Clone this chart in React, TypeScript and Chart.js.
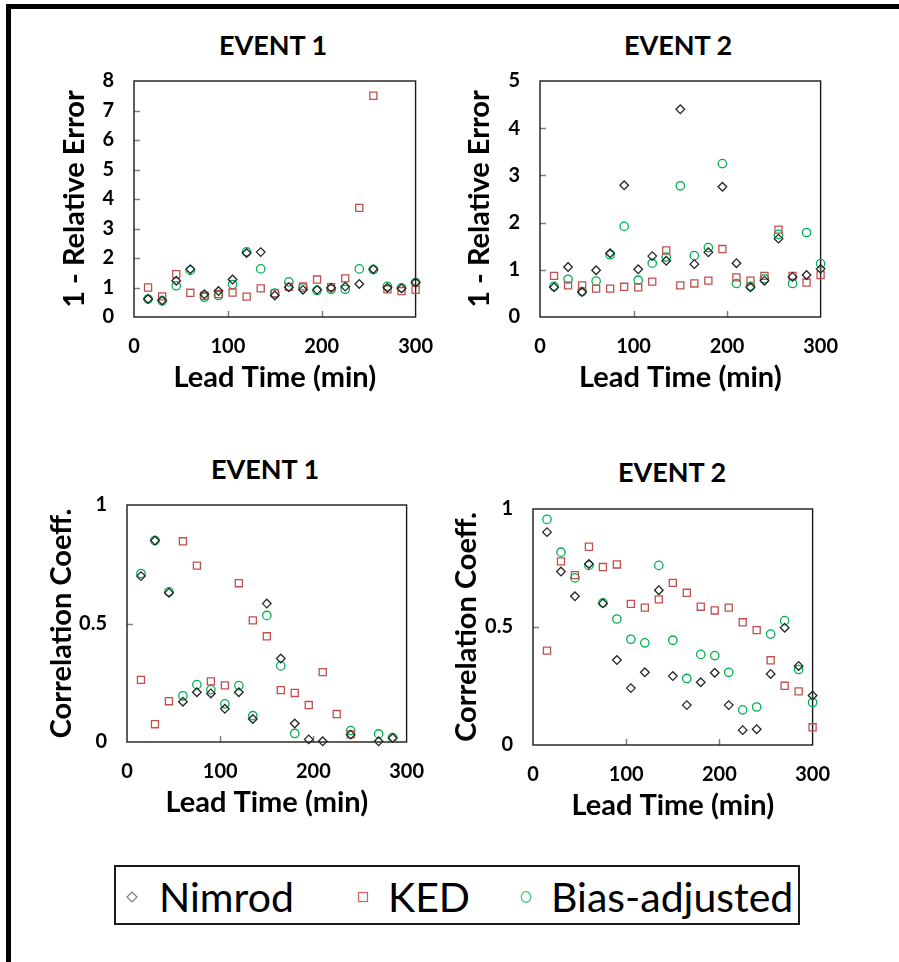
import React, { useEffect, useRef } from 'react';
import { Chart, registerables } from 'chart.js';

Chart.register(...registerables);

// ---------- data ----------
const LEAD_TIMES = [15, 30, 45, 60, 75, 90, 105, 120, 135, 150, 165, 180, 195, 210, 225, 240, 255, 270, 285, 300];

const E1_RE_NIMROD = [0.61, 0.56, 1.23, 1.62, 0.77, 0.88, 1.27, 2.17, 2.2, 0.73, 1.01, 0.92, 0.92, 0.99, 1.03, 1.12, 1.62, 0.99, 0.97, 1.17];
const E1_RE_KED = [1.0, 0.7, 1.45, 0.82, 0.72, 0.78, 0.83, 0.69, 0.97, 0.8, 1.02, 1.04, 1.27, 1.01, 1.31, 3.7, 7.5, 0.94, 0.88, 0.92];
const E1_RE_BIAS = [0.61, 0.55, 1.06, 1.58, 0.67, 0.73, 1.1, 2.21, 1.63, 0.81, 1.19, 0.99, 0.9, 0.94, 0.94, 1.63, 1.61, 1.04, 0.99, 1.17];

const E2_RE_NIMROD = [0.63, 1.06, 0.53, 0.99, 1.35, 2.79, 1.01, 1.29, 1.19, 4.4, 1.12, 1.37, 2.76, 1.14, 0.63, 0.77, 1.66, 0.85, 0.89, 1.02];
const E2_RE_KED = [0.87, 0.67, 0.67, 0.6, 0.6, 0.64, 0.63, 0.75, 1.41, 0.67, 0.71, 0.77, 1.44, 0.84, 0.77, 0.87, 1.85, 0.87, 0.73, 0.89];
const E2_RE_BIAS = [0.65, 0.8, 0.54, 0.76, 1.32, 1.92, 0.78, 1.14, 1.27, 2.78, 1.3, 1.47, 3.25, 0.71, 0.65, 0.81, 1.75, 0.71, 1.79, 1.13];

const E1_CC_NIMROD = [0.7, 0.85, 0.63, 0.17, 0.21, 0.205, 0.14, 0.21, 0.097, 0.584, 0.352, 0.078, 0.011, 0.003, null, 0.031, null, 0.003, 0.017, null];
const E1_CC_KED = [0.262, 0.075, 0.172, 0.847, 0.744, 0.256, 0.239, 0.67, 0.513, 0.446, 0.219, 0.207, 0.156, 0.295, 0.118, 0.032, null, null, null, null];
const E1_CC_BIAS = [0.711, 0.85, 0.634, 0.195, 0.242, 0.221, 0.161, 0.238, 0.111, 0.534, 0.321, 0.036, null, null, null, 0.048, null, 0.034, 0.019, null];

const E2_CC_NIMROD = [0.902, 0.735, 0.63, 0.767, 0.6, 0.36, 0.241, 0.308, 0.656, 0.292, 0.169, 0.266, 0.306, 0.169, 0.063, 0.067, 0.301, 0.497, 0.335, 0.21];
const E2_CC_KED = [0.4, 0.778, 0.72, 0.84, 0.754, 0.765, 0.598, 0.582, 0.617, 0.687, 0.645, 0.586, 0.57, 0.582, 0.52, 0.487, 0.359, 0.251, 0.227, 0.075];
const E2_CC_BIAS = [0.956, 0.817, 0.708, 0.761, 0.602, 0.534, 0.448, 0.433, 0.761, 0.444, 0.282, 0.384, 0.379, 0.308, 0.149, 0.161, 0.47, 0.527, 0.32, 0.18];

const SERIES_NAMES = ['Nimrod', 'KED', 'Bias-adjusted'];
const X_TITLE = 'Lead Time (min)';
const Y_TITLE_RE = '1 - Relative Error';
const Y_TITLE_CC = 'Correlation Coeff.';

// ---------- styling ----------
const FONT = 'Lato, "Open Sans", "DejaVu Sans", sans-serif';
const C_NIM = '#262626';
const C_KED = '#c0504d';
const C_BIAS = '#00b050';

type Plot = { l: number; t: number; r: number; b: number };
type PanelCfg = {
  title: string;
  titleX: number;
  titleY: number;
  plot: Plot;
  yMax: number;
  yStep: number;
  yTitle: string;
  yTitleX: number;
  nim: (number | null)[];
  ked: (number | null)[];
  bias: (number | null)[];
};

const PANELS: PanelCfg[] = [
  { title: 'EVENT 1', titleX: 273, titleY: 45, plot: { l: 134, t: 69, r: 421, b: 317 }, yMax: 8, yStep: 1, yTitle: Y_TITLE_RE, yTitleX: 75, nim: E1_RE_NIMROD, ked: E1_RE_KED, bias: E1_RE_BIAS },
  { title: 'EVENT 2', titleX: 678, titleY: 45, plot: { l: 540, t: 69, r: 826, b: 317 }, yMax: 5, yStep: 1, yTitle: Y_TITLE_RE, yTitleX: 480, nim: E2_RE_NIMROD, ked: E2_RE_KED, bias: E2_RE_BIAS },
  { title: 'EVENT 1', titleX: 265, titleY: 469, plot: { l: 127, t: 493, r: 412, b: 742 }, yMax: 1, yStep: 0.5, yTitle: Y_TITLE_CC, yTitleX: 62, nim: E1_CC_NIMROD, ked: E1_CC_KED, bias: E1_CC_BIAS },
  { title: 'EVENT 2', titleX: 672, titleY: 472, plot: { l: 533, t: 497, r: 818, b: 745 }, yMax: 1, yStep: 0.5, yTitle: Y_TITLE_CC, yTitleX: 467, nim: E2_CC_NIMROD, ked: E2_CC_KED, bias: E2_CC_BIAS },
];

const Y_W = 110;
const X_H = 90;
const PAD_T = 20;
const PAD_R = 30;
const TITLE_SIZE = 27;
const AXIS_TITLE_SIZE = 29;
const TICK_SIZE = 20;
const LH = 1.2;

const toPoints = (vals: (number | null)[]) =>
  LEAD_TIMES.map((x, i) => ({ x, y: vals[i] })).filter((p) => p.y !== null && p.y !== undefined) as { x: number; y: number }[];

const framePlugin = {
  id: 'frameAndInnerTicks',
  beforeDatasetsDraw(chart: any) {
    const { ctx, chartArea, scales } = chart;
    const { left, top, right, bottom } = chartArea;
    const x = scales.x;
    const y = scales.y;
    ctx.save();
    ctx.strokeStyle = '#808080';
    ctx.lineWidth = 1.5;
    ctx.beginPath();
    x.ticks.forEach((t: any) => {
      if (t.value > x.min && t.value < x.max) {
        const px = Math.round(x.getPixelForValue(t.value)) + 0.5;
        ctx.moveTo(px, bottom);
        ctx.lineTo(px, bottom - 6);
      }
    });
    y.ticks.forEach((t: any) => {
      if (t.value > y.min && t.value < y.max) {
        const py = Math.round(y.getPixelForValue(t.value)) + 0.5;
        ctx.moveTo(left, py);
        ctx.lineTo(left + 6, py);
      }
    });
    ctx.stroke();
    ctx.strokeStyle = '#1a1a1a';
    ctx.lineWidth = 1.4;
    ctx.strokeRect(left, top, right - left, bottom - top);
    ctx.restore();
  },
};

function Panel({ cfg }: { cfg: PanelCfg }) {
  const ref = useRef<HTMLCanvasElement>(null);
  const { l, t, r, b } = cfg.plot;
  const cLeft = l - Y_W;
  const cTop = t - PAD_T;
  const W = Y_W + (r - l) + PAD_R;
  const H = PAD_T + (b - t) + X_H;

  useEffect(() => {
    if (!ref.current) return;
    const lhPx = AXIS_TITLE_SIZE * LH;
    const yTitlePad = cfg.yTitleX - cLeft - lhPx / 2;
    const xTitlePad = X_H - 61 - lhPx / 2;
    const ds = (label: string, vals: (number | null)[], style: string, color: string, radius: number) => ({
      label,
      data: toPoints(vals),
      pointStyle: style,
      pointRadius: radius,
      pointBorderColor: color,
      pointBackgroundColor: 'rgba(0,0,0,0)',
      pointBorderWidth: 1.3,
      borderColor: color,
      backgroundColor: 'rgba(0,0,0,0)',
      showLine: false,
      clip: false as any,
    });
    const chart = new Chart(ref.current, {
      type: 'scatter',
      data: {
        datasets: [
          ds(SERIES_NAMES[0], cfg.nim, 'rectRot', C_NIM, 4.3),
          ds(SERIES_NAMES[1], cfg.ked, 'rect', C_KED, 5),
          ds(SERIES_NAMES[2], cfg.bias, 'circle', C_BIAS, 4.2),
        ] as any,
      },
      options: {
        animation: false,
        responsive: false,
        maintainAspectRatio: false,
        events: [],
        layout: { padding: { top: PAD_T, right: PAD_R, left: 0, bottom: 0 } },
        plugins: {
          legend: { display: false },
          tooltip: { enabled: false },
          title: { display: false },
        },
        scales: {
          x: {
            type: 'linear',
            min: 0,
            max: 300,
            ticks: {
              stepSize: 100,
              padding: 18,
              maxRotation: 0,
              color: '#000',
              font: { family: FONT, size: TICK_SIZE, weight: 'bold' },
              callback: (v: any) => String(v),
            },
            grid: { display: false, drawTicks: false },
            border: { display: false },
            title: {
              display: true,
              text: X_TITLE,
              color: '#000',
              font: { family: FONT, size: AXIS_TITLE_SIZE, weight: 'bold', lineHeight: LH },
              padding: { top: 0, bottom: xTitlePad },
            },
            afterFit: (s: any) => {
              s.height = X_H;
            },
          },
          y: {
            type: 'linear',
            min: 0,
            max: cfg.yMax,
            ticks: {
              stepSize: cfg.yStep,
              padding: 20,
              color: '#000',
              font: { family: FONT, size: TICK_SIZE, weight: 'bold' },
              callback: (v: any) => String(v),
            },
            grid: { display: false, drawTicks: false },
            border: { display: false },
            title: {
              display: true,
              text: cfg.yTitle,
              color: '#000',
              font: { family: FONT, size: AXIS_TITLE_SIZE, weight: 'bold', lineHeight: LH },
              padding: { top: yTitlePad, bottom: 0 },
            },
            afterFit: (s: any) => {
              s.width = Y_W;
            },
          },
        },
      } as any,
      plugins: [framePlugin],
    });
    return () => chart.destroy();
  }, []);

  return (
    <>
      <div
        style={{
          position: 'absolute',
          left: cfg.titleX - 100,
          top: cfg.titleY - 17,
          width: 200,
          height: 34,
          lineHeight: '34px',
          textAlign: 'center',
          fontFamily: FONT,
          fontWeight: 'bold',
          fontSize: TITLE_SIZE,
          color: '#000',
          whiteSpace: 'nowrap',
        }}
      >
        {cfg.title}
      </div>
      <canvas
        ref={ref}
        width={W}
        height={H}
        style={{ position: 'absolute', left: cLeft, top: cTop, width: W, height: H }}
      />
    </>
  );
}

function Marker({ kind, color }: { kind: string; color: string }) {
  return (
    <svg width={14} height={14} viewBox="0 0 14 14" style={{ display: 'block' }}>
      {kind === 'diamond' && <polygon points="7,2 12,7 7,12 2,7" fill="none" stroke={color} strokeWidth={1.2} />}
      {kind === 'square' && <rect x={2.5} y={2.5} width={9} height={9} fill="none" stroke={color} strokeWidth={1.2} />}
      {kind === 'circle' && <ellipse cx={7} cy={7} rx={4.8} ry={5.3} fill="none" stroke={color} strokeWidth={1.2} />}
    </svg>
  );
}

const LEGEND_ITEMS = [
  { name: SERIES_NAMES[0], kind: 'diamond', color: '#7f7f7f', mx: 132, tx: 159 },
  { name: SERIES_NAMES[1], kind: 'square', color: '#d0605d', mx: 363, tx: 388 },
  { name: SERIES_NAMES[2], kind: 'circle', color: '#3cc878', mx: 526, tx: 551 },
];

export default function App() {
  return (
    <div
      style={{
        position: 'absolute',
        left: 0,
        top: 0,
        width: 899,
        height: 962,
        overflow: 'hidden',
        background: '#fff',
      }}
    >
      {PANELS.map((p, i) => (
        <Panel key={i} cfg={p} />
      ))}
      <div
        style={{
          position: 'absolute',
          left: 114,
          top: 865,
          width: 686,
          height: 60,
          border: '2px solid #1a1a1a',
          boxSizing: 'border-box',
        }}
      />
      {LEGEND_ITEMS.map((it) => (
        <React.Fragment key={it.name}>
          <div style={{ position: 'absolute', left: it.mx - 7, top: 897 - 7 }}>
            <Marker kind={it.kind} color={it.color} />
          </div>
          <div
            style={{
              position: 'absolute',
              left: it.tx,
              top: 897 - 25,
              height: 50,
              lineHeight: '50px',
              fontFamily: FONT,
              fontSize: 41,
              color: '#000',
              whiteSpace: 'nowrap',
            }}
          >
            {it.name}
          </div>
        </React.Fragment>
      ))}
      <div
        style={{
          position: 'absolute',
          left: 6,
          top: 4,
          width: 2000,
          height: 2000,
          border: '5px solid #000',
          boxSizing: 'border-box',
          pointerEvents: 'none',
        }}
      />
    </div>
  );
}
